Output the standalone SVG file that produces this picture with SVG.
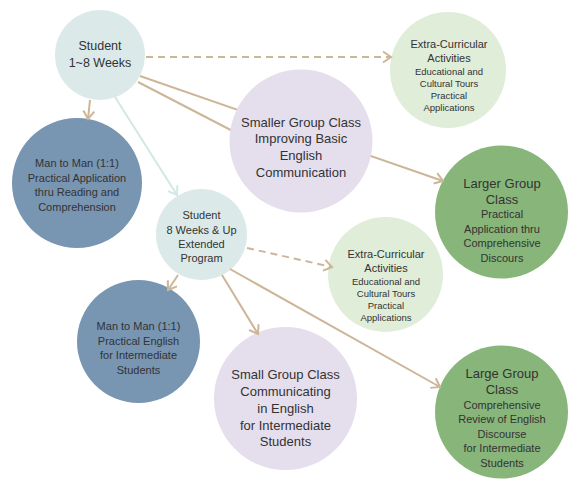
<svg xmlns="http://www.w3.org/2000/svg" width="574" height="491" viewBox="0 0 574 491">
<defs>
<style>
text{font-family:"Liberation Sans",Arial,sans-serif;fill:#333;text-anchor:middle}
.teal{fill:#dbeae8}
.blue{fill:#7895b2}
.lav{fill:#e5deec}
.lg{fill:#dfedd9}
.dg{fill:#88b57a}
.c{fill:none;stroke:#cdb698;stroke-width:2}
.d{stroke-dasharray:7 5}
.lt{fill:none;stroke:#d2e8e3;stroke-width:2}
.f13{font-size:13px}
.f12{font-size:12.5px}
.f11{font-size:11px}
.f9{font-size:9.5px}
</style>
<marker id="ah" markerUnits="userSpaceOnUse" markerWidth="14" markerHeight="14" viewBox="-10 -7 12 14" refX="0" refY="0" orient="auto">
<path d="M-8,-5.5 L0,0 L-8,5.5" fill="none" stroke="#cdb698" stroke-width="2"/>
</marker>
<marker id="ahl" markerUnits="userSpaceOnUse" markerWidth="14" markerHeight="14" viewBox="-10 -7 12 14" refX="0" refY="0" orient="auto">
<path d="M-8,-5.5 L0,0 L-8,5.5" fill="none" stroke="#d2e8e3" stroke-width="2"/>
</marker>
</defs>
<rect width="574" height="491" fill="#fff"/>

<g id="student1">
<circle class="teal" cx="100" cy="55" r="45"/>
<text class="f12" x="100" y="49.5">Student</text>
<text class="f12" x="100" y="66.5">1~8 Weeks</text>
</g>

<g id="man1">
<circle class="blue" cx="77" cy="183" r="65"/>
<text class="f11" x="77" y="167">Man to Man (1:1)</text>
<text class="f11" x="77" y="181.5">Practical Application</text>
<text class="f11" x="77" y="196">thru Reading and</text>
<text class="f11" x="77" y="210.5">Comprehension</text>
</g>

<g id="extra1">
<circle class="lg" cx="448" cy="70" r="58"/>
<text class="f11" x="449" y="48">Extra-Curricular</text>
<text class="f11" x="449" y="62">Activities</text>
<text class="f9" x="449" y="74.5">Educational and</text>
<text class="f9" x="449" y="86.5">Cultural Tours</text>
<text class="f9" x="449" y="98.5">Practical</text>
<text class="f9" x="449" y="110.5">Applications</text>
</g>

<g id="larger">
<circle class="dg" cx="501.5" cy="212" r="66.5"/>
<text class="f13" x="502" y="188">Larger Group</text>
<text class="f13" x="502" y="204">Class</text>
<text class="f11" x="502" y="217.5">Practical</text>
<text class="f11" x="502" y="232.5">Application thru</text>
<text class="f11" x="502" y="247">Comprehensive</text>
<text class="f11" x="502" y="261.5">Discours</text>
</g>

<g id="student2">
<circle class="teal" cx="201.5" cy="234.5" r="45.5"/>
<text class="f11" x="201.5" y="219">Student</text>
<text class="f11" x="201.5" y="233.5">8 Weeks &amp; Up</text>
<text class="f11" x="201.5" y="247.5">Extended</text>
<text class="f11" x="201.5" y="262">Program</text>
</g>

<g id="extra2">
<circle class="lg" cx="385.5" cy="274.5" r="57.5"/>
<text class="f11" x="386" y="258">Extra-Curricular</text>
<text class="f11" x="386" y="272">Activities</text>
<text class="f9" x="386" y="285">Educational and</text>
<text class="f9" x="386" y="297">Cultural Tours</text>
<text class="f9" x="386" y="309">Practical</text>
<text class="f9" x="386" y="321">Applications</text>
</g>

<g id="man2">
<circle class="blue" cx="138.5" cy="341.5" r="61.5"/>
<text class="f11" x="138.5" y="330">Man to Man (1:1)</text>
<text class="f11" x="138.5" y="344.5">Practical English</text>
<text class="f11" x="138.5" y="359">for Intermediate</text>
<text class="f11" x="138.5" y="373.5">Students</text>
</g>

<g id="small">
<circle class="lav" cx="285.5" cy="398.5" r="71.5"/>
<text class="f13" x="285.5" y="378.5">Small Group Class</text>
<text class="f13" x="285.5" y="396">Communicating</text>
<text class="f13" x="285.5" y="412.5">in English</text>
<text class="f13" x="285.5" y="429.5">for Intermediate</text>
<text class="f13" x="285.5" y="446">Students</text>
</g>

<g id="large">
<circle class="dg" cx="501.5" cy="412" r="66.5"/>
<text class="f13" x="502" y="378">Large Group</text>
<text class="f13" x="502" y="394">Class</text>
<text class="f11" x="502" y="409">Comprehensive</text>
<text class="f11" x="502" y="423">Review of English</text>
<text class="f11" x="502" y="437.5">Discourse</text>
<text class="f11" x="502" y="452">for Intermediate</text>
<text class="f11" x="502" y="466.5">Students</text>
</g>

<g id="connectors">
<line class="c" x1="90" y1="100" x2="88" y2="119" marker-end="url(#ah)"/>
<line class="lt" x1="115" y1="97" x2="177" y2="195" marker-end="url(#ahl)"/>
<line class="c d" x1="146" y1="57" x2="391" y2="57" marker-end="url(#ah)"/>
<line class="c" x1="140" y1="76" x2="443" y2="181" marker-end="url(#ah)"/>
<line class="c" x1="138" y1="82" x2="250" y2="140"/>
<line class="c d" x1="247" y1="248" x2="332" y2="267" marker-end="url(#ah)"/>
<line class="c" x1="178" y1="275" x2="168" y2="290" marker-end="url(#ah)"/>
<line class="c" x1="222" y1="275" x2="258" y2="334" marker-end="url(#ah)"/>
<line class="c" x1="230" y1="269" x2="440" y2="387" marker-end="url(#ah)"/>
</g>

<g id="smaller">
<circle class="lav" cx="301" cy="141" r="71.5"/>
<text class="f13" x="301" y="126.5">Smaller Group Class</text>
<text class="f13" x="301" y="143">Improving Basic</text>
<text class="f13" x="301" y="160">English</text>
<text class="f13" x="301" y="176.5">Communication</text>
</g>
</svg>
